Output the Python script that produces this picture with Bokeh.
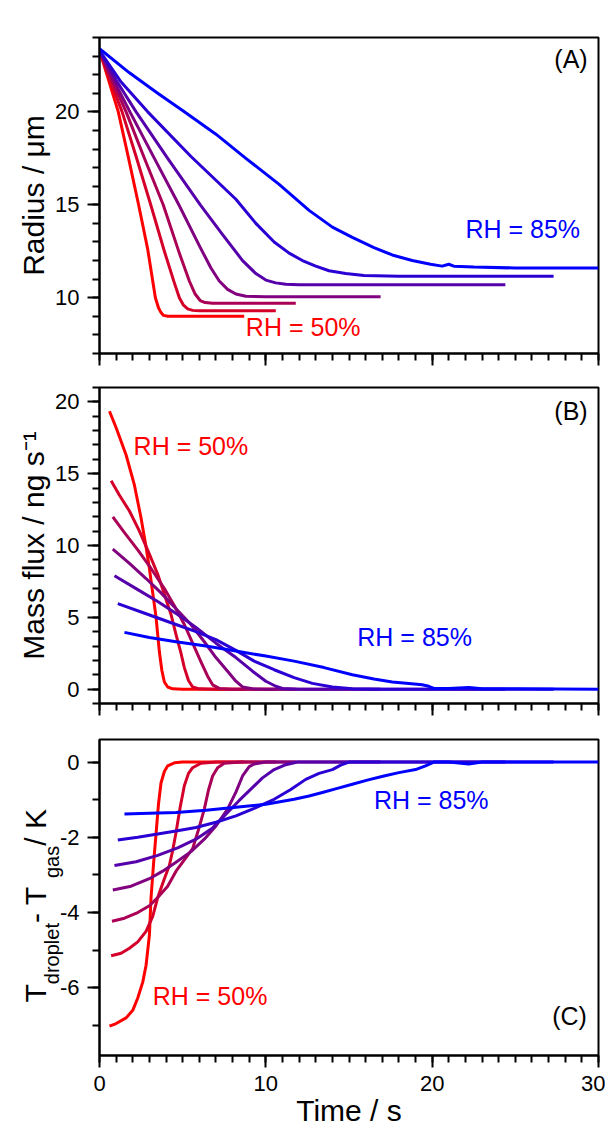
from bokeh.plotting import figure
from bokeh.models import Range1d, SingleIntervalTicker, Label, CustomJSTickFormatter
from bokeh.layouts import row
from bokeh.embed import file_html
from bokeh.resources import INLINE
from bokeh.core.properties import value
import math

FONT = "Liberation Sans"
COLORS = ["#FF0000", "#D4002A", "#AA0055", "#80007F", "#5500AA", "#2A00D4", "#0000FF"]

# ---------------- Panel A : radius (um) vs time (s) ----------------
A_T1 = [0, 0.5, 1.13, 1.7, 2.35, 2.9, 3.36, 3.55, 3.7, 3.85, 4.1, 5, 6, 7, 8.7]
A_R1 = [23.3, 21.85, 20.0, 17.7, 15.0, 12.6, 10.0, 9.45, 9.2, 9.05, 9.0, 9.0, 9.0, 9.0, 9.0]
A_T2 = [0, 0.6, 1.36, 2.2, 3.08, 3.9, 4.5, 4.8, 5.05, 5.3, 5.6, 6, 8, 10.6]
A_R2 = [23.3, 21.8, 20.0, 17.6, 15.0, 12.5, 10.8, 10.0, 9.6, 9.4, 9.32, 9.3, 9.3, 9.3]
A_T3 = [0, 0.7, 1.6, 2.7, 3.83, 4.8, 5.4, 5.75, 6.05, 6.35, 6.8, 8, 11.8]
A_R3 = [23.3, 21.8, 20.0, 17.5, 15.0, 12.4, 10.9, 10.2, 9.85, 9.74, 9.7, 9.7, 9.7]
A_T4 = [0, 0.8, 1.83, 3.3, 4.77, 6.0, 6.7, 7.2, 7.7, 8.2, 8.8, 10, 12, 16.9]
A_R4 = [23.3, 21.8, 20.0, 17.5, 15.0, 12.8, 11.6, 10.9, 10.45, 10.2, 10.08, 10.05, 10.05, 10.05]
A_T5 = [0, 1.0, 2.2, 4.1, 6.06, 7.4, 8.6, 9.4, 10.0, 10.6, 11.2, 12, 16, 24.4]
A_R5 = [23.3, 21.7, 20.0, 17.5, 15.0, 13.4, 12.0, 11.3, 10.95, 10.8, 10.72, 10.7, 10.7, 10.7]
A_T6 = [0, 1.3, 2.9, 5.5, 8.2, 9.4, 10.5, 11.4, 12.2, 13.0, 13.8, 14.8, 15.9, 18, 27.3]
A_R6 = [23.3, 21.6, 20.0, 17.6, 15.3, 14.0, 13.0, 12.4, 12.0, 11.7, 11.45, 11.3, 11.2, 11.15, 11.15]
A_T7 = [0, 1.8, 3.5, 5.1, 7, 8.8, 10.8, 12.6, 14, 15.2, 16.5, 17.6, 18.8, 19.9, 20.6, 21.0, 21.3, 22.5, 25, 30]
A_R7 = [23.4, 22.1, 21.0, 20.0, 18.8, 17.5, 16.1, 14.7, 13.8, 13.25, 12.7, 12.3, 12.0, 11.8, 11.7, 11.8, 11.7, 11.65, 11.6, 11.6]

# ---------------- Panel B : mass flux (ng/s) vs time (s) ----------------
B_T1 = [0.6, 1.0, 1.6, 2.1, 2.5, 2.8, 3.0, 3.2, 3.4, 3.6, 3.75, 3.9, 4.1, 4.4, 5, 8.7]
B_F1 = [19.35, 18.2, 16.3, 14.2, 11.9, 9.9, 8.4, 6.7, 5.0, 2.6, 1.3, 0.5, 0.15, 0.02, 0, 0]
B_T2 = [0.7, 1.2, 1.8, 2.4, 3.0, 3.5, 3.9, 4.3, 4.6, 4.9, 5.1, 5.35, 5.6, 6, 7, 10.6]
B_F2 = [14.5, 13.5, 12.4, 11.0, 9.4, 8.0, 6.6, 5.2, 3.8, 2.5, 1.5, 0.6, 0.15, 0.02, 0, 0]
B_T3 = [0.8, 1.5, 2.3, 3.1, 3.9, 4.5, 5.1, 5.6, 6.1, 6.5, 6.8, 7.2, 8, 11.8]
B_F3 = [12.0, 10.9, 9.7, 8.4, 7.0, 5.8, 4.5, 3.2, 1.9, 0.9, 0.3, 0.05, 0, 0]
B_T4 = [0.8, 1.8, 2.8, 3.7, 4.6, 5.5, 6.3, 7.0, 7.7, 8.2, 8.6, 9.2, 10, 16.9]
B_F4 = [9.75, 8.75, 7.7, 6.7, 5.6, 4.5, 3.3, 2.2, 1.25, 0.55, 0.15, 0.02, 0, 0]
B_T5 = [0.9, 2.2, 3.5, 4.7, 5.8, 7.0, 8.2, 9.2, 10, 10.6, 11, 12, 14, 24.4]
B_F5 = [7.9, 7.0, 6.1, 5.2, 4.3, 3.2, 2.2, 1.25, 0.55, 0.2, 0.05, 0, 0, 0]
B_T6 = [1.1, 2.8, 4.6, 5.8, 7.0, 8.2, 9.3, 10.5, 11.7, 12.8, 14, 15.2, 17, 27.3]
B_F6 = [5.95, 5.25, 4.5, 4.0, 3.45, 2.7, 1.95, 1.35, 0.8, 0.4, 0.15, 0.02, 0, 0]
B_T7 = [1.5, 3.0, 4.6, 6.4, 8.2, 10, 11.7, 13.5, 15.2, 16.5, 17.6, 18.6, 19.4, 19.8, 20.1, 21, 22.2, 23, 25, 30]
B_F7 = [3.95, 3.6, 3.3, 3.0, 2.65, 2.3, 1.95, 1.5, 1.0, 0.7, 0.5, 0.4, 0.3, 0.2, 0.05, 0.05, 0.12, 0.03, 0.02, 0]

# ---------------- Panel C : T_droplet - T_gas (K) vs time (s) ----------------
C_T1 = [0.6, 1.0, 1.6, 2.0, 2.3, 2.6, 2.8, 3.0, 3.1, 3.25, 3.4, 3.55, 3.7, 3.9, 4.1, 4.5, 5, 8.7]
C_D1 = [-7.02, -6.95, -6.8, -6.6, -6.27, -5.85, -5.4, -4.6, -3.6, -2.7, -1.9, -1.1, -0.55, -0.25, -0.1, -0.02, 0, 0]
C_T2 = [0.7, 1.3, 1.8, 2.3, 2.8, 3.2, 3.5, 3.9, 4.2, 4.4, 4.6, 4.85, 5.1, 5.35, 5.6, 6.1, 7, 10.6]
C_D2 = [-5.15, -5.08, -4.95, -4.78, -4.5, -4.1, -3.6, -3.1, -2.75, -2.35, -1.87, -1.2, -0.63, -0.3, -0.15, -0.03, 0, 0]
C_T3 = [0.75, 1.5, 2.3, 3.0, 3.5, 4.1, 4.6, 5.1, 5.6, 5.95, 6.3, 6.55, 6.8, 7.1, 7.5, 8.5, 11.8]
C_D3 = [-4.23, -4.15, -4.0, -3.82, -3.6, -3.3, -2.9, -2.6, -2.3, -1.8, -1.25, -0.75, -0.37, -0.15, -0.03, 0, 0]
C_T4 = [0.8, 1.9, 3.0, 3.8, 4.6, 5.5, 6.3, 7.0, 7.7, 8.2, 8.6, 9.0, 9.3, 10, 12, 16.9]
C_D4 = [-3.4, -3.3, -3.1, -2.9, -2.66, -2.38, -2.05, -1.7, -1.25, -0.8, -0.37, -0.12, -0.05, 0, 0, 0]
C_T5 = [0.9, 2.2, 3.5, 4.7, 5.8, 6.8, 7.7, 8.4, 9.1, 9.8, 10.5, 11.2, 11.9, 13, 16, 24.4]
C_D5 = [-2.75, -2.65, -2.48, -2.28, -2.05, -1.75, -1.34, -1.02, -0.72, -0.42, -0.2, -0.07, 0, 0, 0, 0]
C_T6 = [1.1, 2.3, 3.5, 4.6, 5.8, 7.0, 8.2, 9.3, 10.5, 11.5, 12.4, 13.2, 14, 14.5, 15, 17, 20, 27.3]
C_D6 = [-2.07, -2.0, -1.91, -1.83, -1.74, -1.6, -1.43, -1.23, -0.99, -0.73, -0.46, -0.3, -0.2, -0.08, 0, 0, 0, 0]
C_T7 = [1.5, 3.0, 4.6, 6.4, 8.2, 10, 11.7, 12.6, 13.4, 14.3, 15.2, 16.1, 17.1, 18.0, 19.0, 19.6, 20.1, 21, 22.2, 23, 25, 30]
C_D7 = [-1.38, -1.36, -1.34, -1.28, -1.2, -1.12, -0.99, -0.9, -0.81, -0.7, -0.59, -0.48, -0.37, -0.28, -0.2, -0.1, 0, 0, -0.05, 0, 0, 0]
C_YTICKS = [0, -2, -4, -6]
C_YTICK_LABELS = ["0", "-2", "-4", "-6"]

A_SERIES = [(A_T1, A_R1), (A_T2, A_R2), (A_T3, A_R3), (A_T4, A_R4), (A_T5, A_R5), (A_T6, A_R6), (A_T7, A_R7)]
B_SERIES = [(B_T1, B_F1), (B_T2, B_F2), (B_T3, B_F3), (B_T4, B_F4), (B_T5, B_F5), (B_T6, B_F6), (B_T7, B_F7)]
C_SERIES = [(C_T1, C_D1), (C_T2, C_D2), (C_T3, C_D3), (C_T4, C_D4), (C_T5, C_D5), (C_T6, C_D6), (C_T7, C_D7)]

X_RANGE = (0, 30)
A_RANGE = (7, 24)
B_RANGE = (-1, 21)
C_RANGE = (-7.8, 0.6)

W = 605
LEFT, RIGHT = 99, 7
TICK_OUT, LABEL_STANDOFF = 12, 8
SIDE_W = 87          # width of the strip that carries the panel-C y labels


def style_axis(ax):
    ax.axis_line_width = 2
    ax.axis_line_color = "black"
    ax.major_tick_line_width = 2
    ax.minor_tick_line_width = 2
    ax.major_tick_line_color = "black"
    ax.minor_tick_line_color = "black"
    ax.major_tick_in = 0
    ax.major_tick_out = TICK_OUT
    ax.minor_tick_in = 0
    ax.minor_tick_out = 7
    ax.major_label_text_font = FONT
    ax.major_label_text_font_size = "22px"
    ax.major_label_text_color = "black"
    ax.major_label_standoff = LABEL_STANDOFF
    ax.axis_label_text_font = FONT
    ax.axis_label_text_font_size = "30px"
    ax.axis_label_text_font_style = "normal"
    ax.axis_label_text_color = "black"
    ax.axis_label_standoff = 2


def make_fig(width, left, height, top, bottom, yr, interval, nminor, show_x_labels, show_y_labels=True):
    p = figure(width=width, height=height, x_range=Range1d(*X_RANGE), y_range=Range1d(*yr),
               output_backend="svg", toolbar_location=None,
               min_border_left=left, min_border_right=RIGHT,
               min_border_top=top, min_border_bottom=bottom)
    p.background_fill_color = "white"
    p.border_fill_color = "white"
    p.outline_line_color = "black"
    p.outline_line_width = 2
    p.outline_line_alpha = 1.0
    p.xgrid.visible = False
    p.ygrid.visible = False
    p.xaxis.ticker = SingleIntervalTicker(interval=10, num_minor_ticks=10)
    p.yaxis.ticker = SingleIntervalTicker(interval=interval, num_minor_ticks=nminor)
    style_axis(p.xaxis[0])
    style_axis(p.yaxis[0])
    if show_y_labels:
        p.yaxis.formatter = CustomJSTickFormatter(code="return String(tick);")
    else:
        p.yaxis.formatter = CustomJSTickFormatter(code="return '';")
        p.yaxis.major_label_standoff = 0
    if show_x_labels:
        p.xaxis.formatter = CustomJSTickFormatter(code="return String(tick);")
        p.xaxis.axis_label_standoff = 0
    else:
        p.xaxis.formatter = CustomJSTickFormatter(code="return '';")
        p.xaxis.major_label_standoff = 0
    return p


def add_label(p, x, y, text, color, align="left", baseline="middle", size="25px", angle=0.0):
    p.add_layout(Label(x=x, y=y, text=text, text_color=color, text_align=align,
                       text_baseline=baseline, text_font=FONT, text_font_size=size,
                       angle=angle))


# ---- Panel A ----
pa = make_fig(W, LEFT, 370, 37, 17, A_RANGE, 5, 5, False)
for (t, v), c in zip(A_SERIES, COLORS):
    pa.line(t, v, line_color=c, line_width=3, line_join="round")
pa.yaxis.axis_label = "Radius / μm"
add_label(pa, 29.35, 22.85, "(A)", "black", align="right")
add_label(pa, 22.0, 13.7, "RH = 85%", "#0000FF")
add_label(pa, 8.8, 8.4, "RH = 50%", "#FF0000")

# ---- Panel B ----
pb = make_fig(W, LEFT, 351, 17, 18, B_RANGE, 5, 5, False)
for (t, v), c in zip(B_SERIES, COLORS):
    pb.line(t, v, line_color=c, line_width=3, line_join="round")
pb.yaxis.axis_label = "Mass flux / ng s\u207b\u00b9"
add_label(pb, 29.35, 19.33, "(B)", "black", align="right")
add_label(pb, 2.05, 16.9, "RH = 50%", "#FF0000")
add_label(pb, 15.5, 3.64, "RH = 85%", "#0000FF")

# ---- Panel C ----
C_H, C_TOP, C_BOT = 411, 18, 77
pc = make_fig(W - SIDE_W, LEFT - SIDE_W, C_H, C_TOP, C_BOT, C_RANGE, 2, 2, True, show_y_labels=False)
for (t, v), c in zip(C_SERIES, COLORS):
    pc.line(t, v, line_color=c, line_width=3, line_join="round")
pc.xaxis.axis_label = "Time / s"
add_label(pc, 29.3, -6.76, "(C)", "black", align="right")
add_label(pc, 16.5, -1.01, "RH = 85%", "#0000FF")
add_label(pc, 3.2, -6.23, "RH = 50%", "#FF0000")

# side strip with the panel-C tick labels and the composite (subscripted) axis title
side = figure(width=SIDE_W, height=C_H, x_range=Range1d(0, SIDE_W), y_range=Range1d(*C_RANGE),
              x_axis_type=None, y_axis_type=None, output_backend="svg",
              toolbar_location=None, min_border_left=0, min_border_right=0,
              min_border_top=C_TOP, min_border_bottom=C_BOT)
side.outline_line_color = None
side.background_fill_color = "white"
side.border_fill_color = "white"
side.text(x=[LEFT - TICK_OUT - LABEL_STANDOFF] * len(C_YTICKS), y=C_YTICKS, text=C_YTICK_LABELS,
          text_align="right", text_baseline="middle", text_color="black",
          text_font=value(FONT), text_font_size=value("22px"))

FRAME_H = C_H - C_TOP - C_BOT


def sy(offset_px):
    # pixel offset below the top of the frame -> data value of the C y range
    return C_RANGE[1] - offset_px / FRAME_H * (C_RANGE[1] - C_RANGE[0])


BIG, SMALL = 30, 20
BIG_X, SUB_X = 35, 51
pieces = [("T", BIG, BIG_X, 0.611), ("droplet", SMALL, SUB_X, 3.057),
          (" - T", BIG, BIG_X, 1.5), ("gas", SMALL, SUB_X, 1.612),
          (" / K", BIG, BIG_X, 1.501)]
off = 263
for txt, fs, xc, em in pieces:
    add_label(side, xc, sy(off), txt, "black", align="left", baseline="middle",
              size=f"{fs}px", angle=math.pi / 2)
    off -= em * fs

crow = row(side, pc, spacing=0)
open("out.html", "w").write(file_html([pa, pb, crow], INLINE))
